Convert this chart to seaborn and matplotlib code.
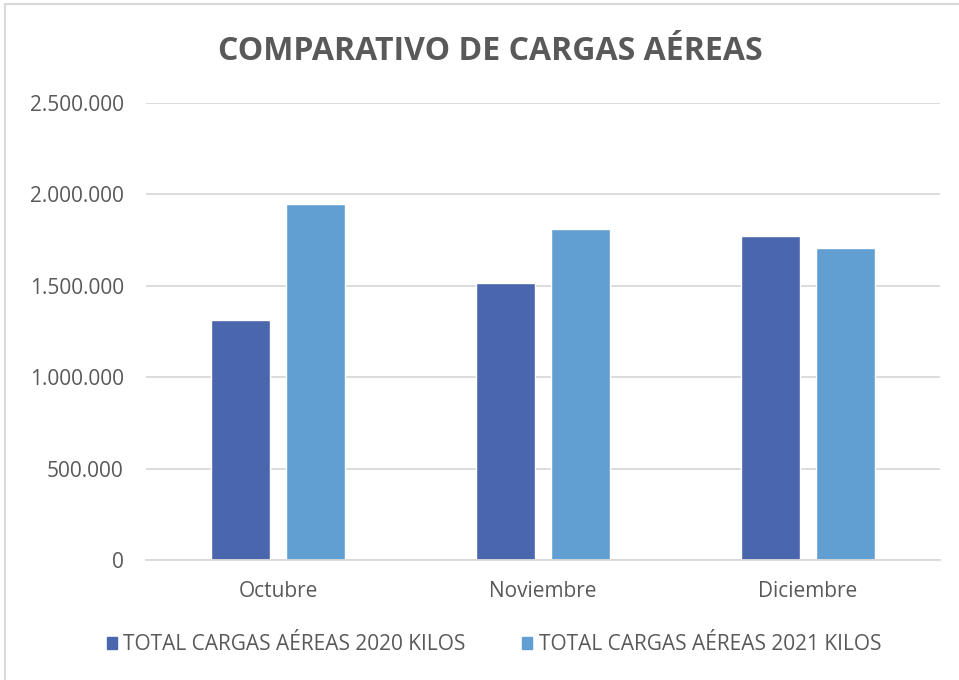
import pandas as pd
import matplotlib.pyplot as plt
import matplotlib.ticker as mticker
from matplotlib.lines import Line2D
import seaborn as sns

# Datos
meses = ['Octubre', 'Noviembre', 'Diciembre']
series = ['TOTAL CARGAS AÉREAS 2020 KILOS', 'TOTAL CARGAS AÉREAS 2021 KILOS']
kilos_2020 = [1313000, 1515000, 1773000]
kilos_2021 = [1948000, 1810000, 1705000]
colores = ['#4A66AC', '#619ED2']

df = pd.DataFrame({
    'Mes': meses * 2,
    'Serie': [series[0]] * 3 + [series[1]] * 3,
    'Kilos': kilos_2020 + kilos_2021,
})

sns.set_theme(style='white')
plt.rcParams['font.family'] = ['Open Sans', 'DejaVu Sans']

fig = plt.figure(figsize=(9.59, 6.8), dpi=100)
ax = fig.add_axes([0.1522, 0.1765, 0.8280, 0.672])

sns.barplot(data=df, x='Mes', y='Kilos', hue='Serie', palette=colores,
            width=0.567, gap=0.21, ax=ax, legend=False, saturation=1)

ax.set_ylim(0, 2500000)
ax.set_yticks(range(0, 2500001, 500000))
ax.yaxis.set_major_formatter(mticker.FuncFormatter(lambda v, p: f'{int(v):,}'.replace(',', '.')))
ax.grid(axis='y', color='#D9D9D9', linewidth=1.3)
ax.set_axisbelow(True)
for s in ['left', 'right', 'top']:
    ax.spines[s].set_visible(False)
ax.spines['bottom'].set_color('#D9D9D9')
ax.spines['bottom'].set_linewidth(1.3)
ax.tick_params(axis='both', length=0, colors='#595959', labelsize=15)
ax.tick_params(axis='y', pad=16)
ax.tick_params(axis='x', pad=15)
ax.set_xlabel('')
ax.set_ylabel('')

fig.text(0.511, 0.925, 'COMPARATIVO DE CARGAS AÉREAS', ha='center', va='center',
         fontsize=23, fontweight='bold', color='#595959')

# leyenda
handles = [plt.Rectangle((0, 0), 1, 1, color=c) for c in colores]
fig.legend(handles, series, loc='center', bbox_to_anchor=(0.515, 0.052), ncol=2,
           frameon=False, fontsize=15, labelcolor='#595959', handlelength=0.5,
           handleheight=0.5, handletextpad=0.3, columnspacing=2.7)

# borde del area del grafico
fig.add_artist(Line2D([5 / 959, 5 / 959], [0, 1 - 4 / 680], color='#D9D9D9', lw=1.5))
fig.add_artist(Line2D([5 / 959, 1], [1 - 4 / 680, 1 - 4 / 680], color='#D9D9D9', lw=1.5))

fig.savefig('out.png', dpi=100)
